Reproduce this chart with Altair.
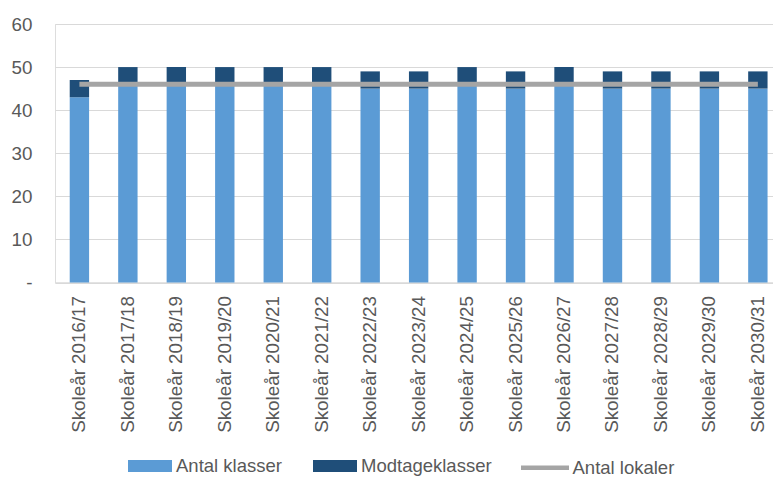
import altair as alt
import pandas as pd

years = ["Skoleår 2016/17", "Skoleår 2017/18", "Skoleår 2018/19", "Skoleår 2019/20",
         "Skoleår 2020/21", "Skoleår 2021/22", "Skoleår 2022/23", "Skoleår 2023/24",
         "Skoleår 2024/25", "Skoleår 2025/26", "Skoleår 2026/27", "Skoleår 2027/28",
         "Skoleår 2028/29", "Skoleår 2029/30", "Skoleår 2030/31"]
antal_klasser = [43, 46, 46, 46, 46, 46, 45, 45, 46, 45, 46, 45, 45, 45, 45]
modtageklasser = [4, 4, 4, 4, 4, 4, 4, 4, 4, 4, 4, 4, 4, 4, 4]
antal_lokaler = [46, 46, 46, 46, 46, 46, 46, 46, 46, 46, 46, 46, 46, 46, 46]
y_ticks = [0, 10, 20, 30, 40, 50, 60]

bar_series = ["Antal klasser", "Modtageklasser"]
bar_colors = ["#5B9BD5", "#1F4E79"]
line_series = ["Antal lokaler"]
line_colors = ["#A5A5A5"]

FONT = "Liberation Sans"
TXT = "#595959"

bars_df = pd.DataFrame({
    "year": years * 2,
    "serie": [bar_series[0]] * len(years) + [bar_series[1]] * len(years),
    "value": antal_klasser + modtageklasser,
    "order": [0] * len(years) + [1] * len(years),
})
line_df = pd.DataFrame({
    "year": years,
    "serie": [line_series[0]] * len(years),
    "value": antal_lokaler,
})

x_enc = alt.X(
    "year:N", sort=years, title=None,
    scale=alt.Scale(paddingInner=0.6, paddingOuter=0.208, align=0.73),
    axis=alt.Axis(labelAngle=270, labelPadding=13, ticks=False, tickSize=0,
                  domainColor="#D9D9D9", domainWidth=1, grid=False,
                  labelFont=FONT, labelFontSize=18.8, labelColor=TXT, labelLimit=300),
)
y_enc = alt.Y(
    "value:Q", stack="zero", title=None,
    scale=alt.Scale(domain=[0, 60], nice=False),
    axis=alt.Axis(values=y_ticks, labelExpr="datum.value == 0 ? '-\u00a0\u00a0' : datum.label",
                  domain=False, ticks=False, tickSize=0, labelPadding=23,
                  gridColor="#D9D9D9", gridWidth=1,
                  labelFont=FONT, labelFontSize=18.8, labelColor=TXT),
)

bars = alt.Chart(bars_df).mark_bar().encode(
    x=x_enc,
    y=y_enc,
    fill=alt.Fill("serie:N",
                  scale=alt.Scale(domain=bar_series, range=bar_colors),
                  legend=alt.Legend(title=None, orient="none", legendX=73, legendY=419.7,
                                    direction="horizontal",
                                    symbolType="M-1,-0.273H1V0.273H-1Z", symbolSize=1936,
                                    symbolStrokeWidth=0, labelOffset=4, columnPadding=31,
                                    labelFont=FONT, labelFontSize=18.5, labelColor=TXT)),
    order=alt.Order("order:Q"),
)

line = alt.Chart(line_df).mark_line(strokeWidth=5).encode(
    x=alt.X("year:N", sort=years),
    y=alt.Y("value:Q"),
    stroke=alt.Stroke("serie:N",
                      scale=alt.Scale(domain=line_series, range=line_colors),
                      legend=alt.Legend(title=None, orient="none", legendX=463.5, legendY=417.2,
                                        symbolType="stroke", symbolSize=2304,
                                        symbolStrokeWidth=4.5, labelOffset=1,
                                        labelFont=FONT, labelFontSize=18.5, labelColor=TXT)),
)

chart = alt.layer(bars, line).properties(
    width=718, height=258.5,
    autosize=alt.AutoSizeParams(type="none"),
    padding={"left": 47, "top": 16, "right": 0, "bottom": 198},
).configure_view(stroke=None).configure(background="white")

chart.save("out.html", embed_options={"renderer": "svg", "actions": False})
